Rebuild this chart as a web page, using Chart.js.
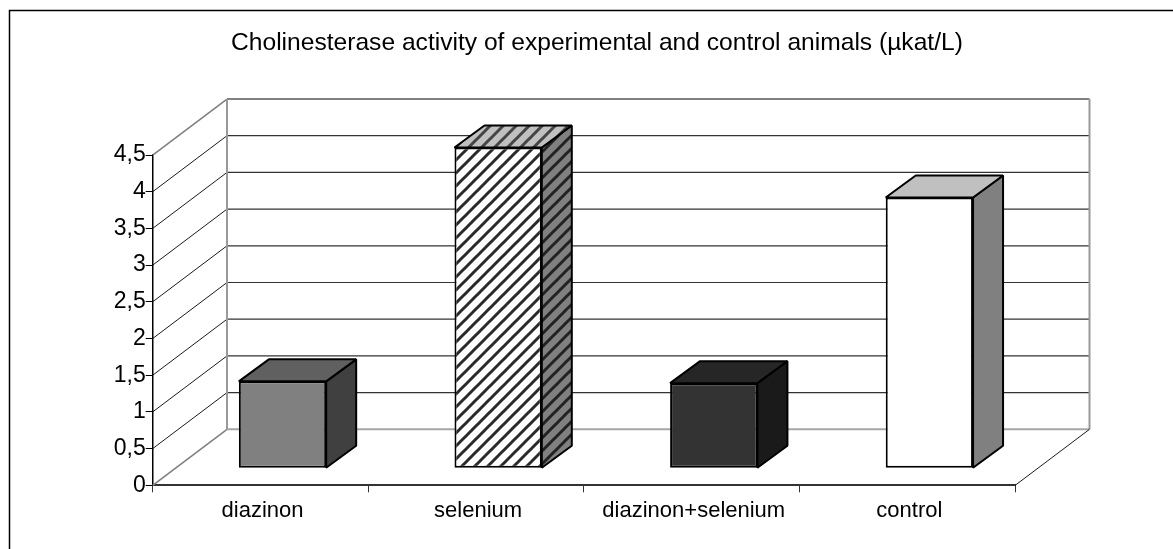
<!DOCTYPE html>
<html>
<head>
<meta charset="utf-8">
<title>Cholinesterase activity</title>
<script src="https://cdn.jsdelivr.net/npm/chart.js@4"></script>
<style>
    html, body { margin: 0; padding: 0; background: #fff; }
    canvas { display: block; }
</style>
</head>
<body>
<canvas id="chart" width="1173" height="549"></canvas>
<script>
const categories = ["diazinon", "selenium", "diazinon+selenium", "control"];
const activity = [1.185, 4.37, 1.16, 3.69];
const yTickLabels = ["0", "0,5", "1", "1,5", "2", "2,5", "3", "3,5", "4", "4,5"];
const titleText = "Cholinesterase activity of experimental and control animals (µkat/L)";

const FONT = "'Liberation Sans', Arial, sans-serif";

// depth of the fake 3D box, and where the bars stand inside it
const WALL_DX = 74.3, WALL_DY = -56;
const BAR_DX = 22, BAR_DY = -17;
const BOX_DX = 30, BOX_DY = -22;

// ================= STRIPE PATTERN =================
function stripes(light, dark) {
    const size = 13;
    const c = document.createElement("canvas");
    c.width = size;
    c.height = size;
    const g = c.getContext("2d");
    g.fillStyle = light;
    g.fillRect(0, 0, size, size);
    g.strokeStyle = dark;
    g.lineWidth = 3;
    for (let i = -1; i <= 1; i++) {
        g.beginPath();
        g.moveTo(i * size - size, 2 * size);
        g.lineTo(i * size + 2 * size, -size);
        g.stroke();
    }
    return g.createPattern(c, "repeat");
}

const frontColors = ["#808080", stripes("#ffffff", "#2a2a2a"), "#333333", "#ffffff"];
const sideColors = ["#404040", stripes("#808080", "#222222"), "#1a1a1a", "#808080"];
const topColors = ["#606060", stripes("#c0c0c0", "#444444"), "#262626", "#c0c0c0"];

// ================= WALLS BEHIND THE BARS =================
const walls = {
    id: "walls",
    afterLayout(chart) {
        // the title sits a little right of the plot centre
        chart.titleBlock.left += 33;
        chart.titleBlock.right += 33;
    },
    beforeDatasetsDraw(chart) {
        const { ctx, chartArea: a, scales } = chart;
        const y = scales.y;

        ctx.save();
        // outer frame of the figure, top and left only
        ctx.strokeStyle = "#000";
        ctx.lineWidth = 1.5;
        ctx.beginPath();
        ctx.moveTo(1173, 10.5);
        ctx.lineTo(9.5, 10.5);
        ctx.lineTo(9.5, 549);
        ctx.stroke();

        const backL = a.left + WALL_DX, backR = a.right + WALL_DX;

        yTickLabels.forEach((_, i) => {
            const v = i * 0.5;
            const py = y.getPixelForValue(v);
            const edge = i === 0 || i === yTickLabels.length - 1;
            // diagonal on the side wall
            ctx.strokeStyle = edge ? "#808080" : "#000";
            ctx.lineWidth = edge ? 1.6 : 0.9;
            ctx.beginPath();
            ctx.moveTo(a.left, py);
            ctx.lineTo(backL, py + WALL_DY);
            ctx.stroke();
            // line across the back wall
            ctx.strokeStyle = edge ? (i === 0 ? "#a6a6a6" : "#808080") : "#333";
            ctx.lineWidth = edge ? 2 : 1.2;
            ctx.beginPath();
            ctx.moveTo(backL, py + WALL_DY);
            ctx.lineTo(backR, py + WALL_DY);
            ctx.stroke();
        });

        // back wall uprights
        ctx.strokeStyle = "#999";
        ctx.lineWidth = 2;
        ctx.beginPath();
        ctx.moveTo(backL, y.top + WALL_DY);
        ctx.lineTo(backL, y.bottom + WALL_DY);
        ctx.moveTo(backR, y.top + WALL_DY);
        ctx.lineTo(backR, y.bottom + WALL_DY);
        ctx.stroke();

        // right floor edge
        ctx.strokeStyle = "#000";
        ctx.lineWidth = 0.9;
        ctx.beginPath();
        ctx.moveTo(a.right, y.bottom);
        ctx.lineTo(backR, y.bottom + WALL_DY);
        ctx.stroke();
        ctx.restore();
    },
    beforeDatasetDraw(chart, args) {
        const { ctx } = chart;
        const bars = chart.getDatasetMeta(args.index).data;

        ctx.save();
        ctx.translate(BAR_DX, BAR_DY);

        // side and top faces, taken from the bar the library laid out
        bars.forEach((bar, i) => {
            const p = bar.getProps(["x", "y", "base", "width"], true);
            const l = p.x - p.width / 2, r = p.x + p.width / 2;

            ctx.lineWidth = 2;
            ctx.lineJoin = "bevel";
            ctx.strokeStyle = "#000";

            ctx.fillStyle = sideColors[i];
            ctx.beginPath();
            ctx.moveTo(r, p.y);
            ctx.lineTo(r + BOX_DX, p.y + BOX_DY);
            ctx.lineTo(r + BOX_DX, p.base + BOX_DY);
            ctx.lineTo(r, p.base);
            ctx.closePath();
            ctx.fill();
            ctx.stroke();

            ctx.fillStyle = topColors[i];
            ctx.beginPath();
            ctx.moveTo(l, p.y);
            ctx.lineTo(l + BOX_DX, p.y + BOX_DY);
            ctx.lineTo(r + BOX_DX, p.y + BOX_DY);
            ctx.lineTo(r, p.y);
            ctx.closePath();
            ctx.fill();
            ctx.stroke();
        });
    },
    afterDatasetDraw(chart) {
        chart.ctx.restore();
    }
};

// ================= CHART =================
new Chart(document.getElementById("chart"), {
    type: "bar",
    data: {
        labels: categories,
        datasets: [{
            label: "Cholinesterase activity",
            data: activity,
            backgroundColor: frontColors,
            borderColor: "#000",
            borderWidth: 2,
            borderSkipped: false,
            categoryPercentage: 1,
            barPercentage: 0.405
        }]
    },
    options: {
        responsive: false,
        animation: false,
        devicePixelRatio: 1,
        layout: { padding: { left: 112.7, right: 157.8, top: 0, bottom: 0 } },
        plugins: {
            legend: { display: false },
            tooltip: { enabled: false },
            title: {
                display: true,
                text: titleText,
                color: "#000",
                font: { family: FONT, size: 24.6, weight: "normal", lineHeight: 1.2 },
                padding: { top: 28, bottom: 97.5 }
            }
        },
        scales: {
            x: {
                afterFit(scale) { scale.height = 63.7; },
                border: { color: "#333", width: 2 },
                grid: { drawOnChartArea: false, color: "#333", tickLength: 7, lineWidth: 1 },
                ticks: {
                    color: "#000",
                    padding: 5,
                    labelOffset: 2,
                    maxRotation: 0,
                    font: { family: FONT, size: 22 }
                }
            },
            y: {
                min: 0,
                max: 4.5,
                afterFit(scale) { scale.width = 40; },
                border: { color: "#000", width: 1.5 },
                grid: { drawOnChartArea: false, color: "#000", tickLength: 7, lineWidth: 1 },
                ticks: {
                    stepSize: 0.5,
                    color: "#000",
                    padding: 0,
                    font: { family: FONT, size: 23 },
                    callback: (value, index) => yTickLabels[index]
                }
            }
        }
    },
    plugins: [walls]
});
</script>
</body>
</html>
